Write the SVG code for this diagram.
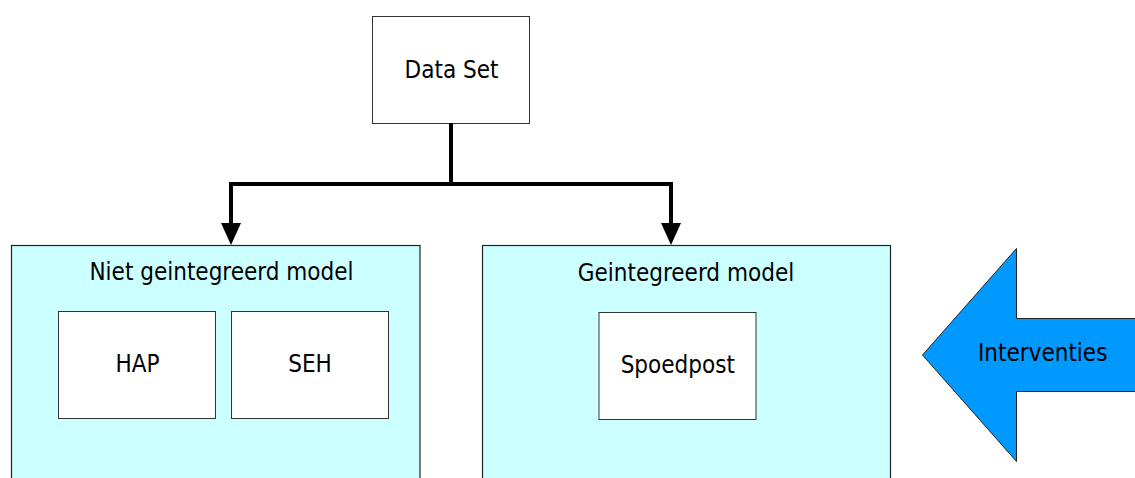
<svg xmlns="http://www.w3.org/2000/svg" width="1135" height="478" viewBox="0 0 1135 478">
<style>
text{font-family:"DejaVu Sans Condensed","DejaVu Sans",sans-serif;font-size:24px;fill:#000;text-anchor:middle}
.box{fill:#fff;stroke:#333;stroke-width:1}
.cont{fill:#ccffff;stroke:#222;stroke-width:1.2}
.wire{fill:none;stroke:#000;stroke-width:4;stroke-linejoin:miter}
</style>
<rect width="1135" height="478" fill="#fff"/>
<g id="left-container">
<rect class="cont" x="11.5" y="245.5" width="408.5" height="240"/>
<text x="221.5" y="280">Niet geintegreerd model</text>
</g>
<g id="right-container">
<rect class="cont" x="482.5" y="245.5" width="408" height="240"/>
<text x="686" y="281">Geintegreerd model</text>
</g>
<g id="data-set">
<rect class="box" x="372.5" y="16.5" width="157" height="107"/>
<text x="451.5" y="78">Data Set</text>
</g>
<g id="hap">
<rect class="box" x="58.5" y="311.5" width="157" height="107"/>
<text x="137.5" y="371.5">HAP</text>
</g>
<g id="seh">
<rect class="box" x="231.5" y="311.5" width="157" height="107"/>
<text x="310" y="371.5">SEH</text>
</g>
<g id="spoedpost">
<rect class="box" x="599" y="312.5" width="157" height="107"/>
<text x="677.8" y="373">Spoedpost</text>
</g>
<g id="interventies">
<polygon points="922.5,355 1016.5,248.5 1016.5,318.5 1140,318.5 1140,391.5 1016.5,391.5 1016.5,461.5" fill="#0099ff" stroke="#222" stroke-width="1"/>
<text x="1042.7" y="360.5">Interventies</text>
</g>
<g id="connectors">
<path class="wire" d="M451,123 V184 M231,224 V184 H671 V224"/>
<polygon points="221,223 241,223 231,245"/>
<polygon points="661,223 681,223 671,245"/>
</g>
</svg>
